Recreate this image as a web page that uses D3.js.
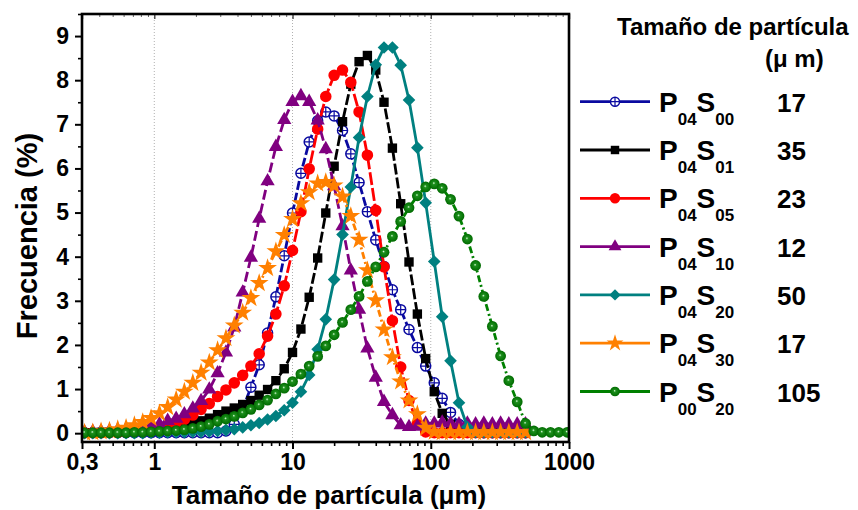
<!DOCTYPE html>
<html>
<head>
<meta charset="utf-8">
<script src="https://cdn.jsdelivr.net/npm/d3@7"></script>
<style>
  html, body { margin: 0; padding: 0; background: #fff; }
  svg { display: block; }
  text { font-family: "Liberation Sans", Arial, sans-serif; font-weight: bold; fill: #000; }
</style>
</head>
<body>
<svg id="chart" width="858" height="510"></svg>
<script>
// ---------------- DATA ----------------
const sizes = [0.313,0.359,0.412,0.474,0.544,0.625,0.718,0.825,0.948,1.09,1.25,1.44,1.65,1.90,2.18,2.50,2.87,3.30,3.79,4.36,5.00,5.74,6.60,7.58,8.71,10.0,11.5,13.2,15.2,17.4,20.0,23.0,26.4,30.3,34.8,40.0,45.9,52.8,60.6,69.6,80.0,91.9,106,121,139,160,184,211,242,279,320,367,422,485,557,640,735,844,970];

const p04s00 = [0.01,0.01,0.01,0.01,0.01,0.01,0.01,0.01,0.01,0.01,0.01,0.01,0.01,0.01,0.01,0.01,0.01,
  0.05,0.2,0.55,1.04,1.55,2.27,3.09,4.02,
  4.99,5.89,6.6,7.08,7.28,7.19,6.86,6.33,5.68,
  5.02,4.38,3.78,3.25,2.8,2.35,1.94,1.52,1.14,
  0.79,0.47,0.2,0.06,0.02,0.01,0.01,0.01,0.01,0.01,0.01];

const p04s01 = [0.01,0.01,0.02,0.02,0.03,0.04,0.05,0.06,0.07,0.09,0.11,0.14,
  0.17,0.22,0.28,0.34,0.42,0.5,0.57,0.65,0.74,
  0.86,0.99,1.19,1.46,1.83,2.36,3.08,3.97,4.99,
  6.05,7.06,7.91,8.42,8.56,8.23,7.5,6.46,5.2,
  3.88,2.7,1.69,0.94,0.45,0.2,0.05,0.02,0.01,0.01,0.01,0.01,0.01,0.01,0.01];

const p04s05 = [0.01,0.01,0.01,0.02,0.02,0.03,0.04,0.06,0.09,0.12,0.17,0.23,
  0.31,0.41,0.54,0.67,0.83,0.98,1.14,1.31,1.52,
  1.8,2.2,2.7,3.34,4.14,5.02,5.99,6.89,7.63,
  8.11,8.23,7.95,7.28,6.3,5.05,3.77,2.55,1.5,
  0.74,0.22,0.03,0.01,0.01,0.01,0.01,0.01,0.01,0.01,0.01,0.01,0.01,0.01,0.01];

const p04s10 = [0.02,0.03,0.04,0.05,0.07,0.09,0.11,
  0.13,0.16,0.2,0.28,0.33,0.43,0.56,0.73,0.99,
  1.36,1.83,2.4,3.19,3.98,4.86,5.71,6.49,7.10,
  7.51,7.64,7.51,7.09,6.44,5.6,4.69,3.69,2.80,
  1.92,1.26,0.71,0.41,0.18,0.14,0.15,0.22,0.22,
  0.24,0.22,0.2,0.22,0.2,0.22,0.2,0.22,0.2,0.2,0.2];

const p04s20 = [0,0,0,0,0,0,0,0,0.01,0.01,0.02,0.02,
  0.02,0.03,0.03,0.04,0.05,0.07,0.09,0.13,0.18,
  0.23,0.31,0.39,0.52,0.69,0.94,1.32,1.9,2.58,
  3.48,4.5,5.58,6.7,7.63,8.35,8.74,8.74,8.34,
  7.55,6.47,5.22,3.89,2.64,1.64,0.69,0.14,0.02,0.02,0.02,0.02,0.02,0.02,0.02];

const p04s30 = [0.01,0.02,0.04,0.06,0.09,0.12,0.18,0.25,0.34,
  0.45,0.59,0.76,0.94,1.14,1.37,1.6,1.88,2.15,
  2.44,2.73,3.06,3.4,3.74,4.12,4.49,4.85,5.21,
  5.46,5.66,5.69,5.61,5.36,4.92,4.38,3.69,3.01,
  2.35,1.72,1.17,0.74,0.43,0.12,0.03,0.02,0.02,
  0.02,0.02,0.02,0.02,0.02,0.02,0.02,0.02,0.02];

const p00s20 = [0.01,0.01,0.01,0.01,0.01,0.01,0.02,0.02,0.03,0.04,0.05,0.06,
  0.08,0.11,0.15,0.2,0.27,0.32,0.38,0.46,0.54,
  0.64,0.75,0.89,1.02,1.17,1.34,1.52,1.74,1.98,
  2.23,2.51,2.8,3.1,3.44,3.77,4.1,4.46,4.8,
  5.11,5.38,5.58,5.65,5.55,5.3,4.92,4.4,3.8,
  3.1,2.42,1.75,1.19,0.71,0.22,0.05,0.02,0.02,0.02,0.02];

const seriesMain = ["P","P","P","P","P","P","P"];
const seriesSub1 = ["04","04","04","04","04","04","00"];
const seriesSub2 = ["00","01","05","10","20","30","20"];
const meanSizes = ["17","35","23","12","50","17","105"];

const xTicks = [0.3, 1, 10, 100, 1000];
const xTickLabels = ["0,3", "1", "10", "100", "1000"];
const xMinor = [0.4,0.5,0.6,0.7,0.8,0.9,2,3,4,5,6,7,8,9,20,30,40,50,60,70,80,90,200,300,400,500,600,700,800,900];
const yTicks = [0,1,2,3,4,5,6,7,8,9];
const yMinor = [0.5,1.5,2.5,3.5,4.5,5.5,6.5,7.5,8.5,9.5];

const xTitle = "Tamaño de partícula (μm)";
const yTitle = "Frecuencia (%)";
const legendTitle1 = "Tamaño de partícula";
const legendTitle2 = "(μ m)";

// ---------------- STYLE CONFIG ----------------
const series = [
  {values: p04s00, color: "#0a0aa0", dash: "9,3", marker: "circlePlus"},
  {values: p04s01, color: "#000000", dash: "11,3", marker: "square"},
  {values: p04s05, color: "#ff0000", dash: "13,3", marker: "circle"},
  {values: p04s10, color: "#800080", dash: "10,4", marker: "triangle"},
  {values: p04s20, color: "#008080", dash: null, marker: "diamond"},
  {values: p04s30, color: "#ff8000", dash: "7,3,2,3", marker: "star"},
  {values: p00s20, color: "#008000", dash: "7,3,2,3", marker: "sphere"}
];

const svg = d3.select("#chart");
svg.append("rect").attr("width", 858).attr("height", 510).attr("fill", "#fff");

const defs = svg.append("defs");
const grad = defs.append("radialGradient").attr("id", "sph")
  .attr("cx", "0.5").attr("cy", "0.5").attr("r", "0.5").attr("fx", "0.45").attr("fy", "0.42");
grad.append("stop").attr("offset", "0%").attr("stop-color", "#e8ffe8");
grad.append("stop").attr("offset", "10%").attr("stop-color", "#8fd08f");
grad.append("stop").attr("offset", "26%").attr("stop-color", "#1c8f1c");
grad.append("stop").attr("offset", "100%").attr("stop-color", "#006a00");

const L = 82, R = 569, T = 14, B = 442;
const x = d3.scaleLog().domain([0.3, 1000]).range([L, R]);
const y = d3.scaleLinear().domain([-0.2, 9.5]).range([B, T]);

defs.append("clipPath").attr("id", "clip").append("rect")
  .attr("x", L).attr("y", T).attr("width", R - L).attr("height", B - T);

// grid lines
svg.append("g").selectAll("line").data([1, 10, 100]).join("line")
  .attr("x1", d => x(d)).attr("x2", d => x(d)).attr("y1", T).attr("y2", B)
  .attr("stroke", "#b0b0b0").attr("stroke-width", 1).attr("stroke-dasharray", "1,2");

// marker drawing
function drawMarker(g, type, color, cx, cy, scale) {
  const s = scale || 1;
  if (type === "circlePlus") {
    const r = 5.0 * s;
    g.append("circle").attr("cx", cx).attr("cy", cy).attr("r", r)
      .attr("fill", "#fff").attr("stroke", color).attr("stroke-width", 1.5);
    g.append("path").attr("d", `M${cx - r},${cy}H${cx + r}M${cx},${cy - r}V${cy + r}`)
      .attr("stroke", color).attr("stroke-width", 1.2);
  } else if (type === "sphere") {
    g.append("circle").attr("cx", cx).attr("cy", cy).attr("r", 5.4 * s)
      .attr("fill", "url(#sph)");
  } else {
    let sym, size, rot = 0;
    if (type === "square") { sym = d3.symbolSquare; size = 88; }
    else if (type === "circle") { sym = d3.symbolCircle; size = 105; }
    else if (type === "triangle") { sym = d3.symbolTriangle; size = 88; }
    else if (type === "diamond") { sym = d3.symbolSquare; size = 80; rot = 45; }
    else if (type === "star") { sym = d3.symbolStar; size = 110; }
    g.append("path").attr("d", d3.symbol().type(sym).size(size * s * s)())
      .attr("transform", `translate(${cx},${cy}) rotate(${rot})`)
      .attr("fill", color);
  }
}

const plot = svg.append("g").attr("clip-path", "url(#clip)");
const line = d3.line().x((d, i) => x(sizes[i])).y(d => y(d));

series.forEach(s => {
  const g = plot.append("g");
  g.append("path").attr("d", line(s.values)).attr("fill", "none")
    .attr("stroke", s.color).attr("stroke-width", 2.8)
    .attr("stroke-dasharray", s.dash).attr("stroke-linejoin", "round");
  const mg = g.append("g");
  s.values.forEach((v, i) => drawMarker(mg, s.marker, s.color, x(sizes[i]), y(v)));
});

// axes
const fontTick = 23;
const yAxis = svg.append("g").attr("transform", `translate(${L},0)`)
  .call(d3.axisLeft(y).tickValues(yTicks).tickSize(7).tickPadding(6).tickFormat(d3.format("d")));
yAxis.select(".domain").remove();
yAxis.selectAll("line").attr("stroke-width", 2);
yAxis.selectAll("text").attr("font-size", fontTick).attr("font-family", "Liberation Sans, Arial").attr("font-weight", "bold");
const yAxisMinor = svg.append("g").attr("transform", `translate(${L},0)`)
  .call(d3.axisLeft(y).tickValues(yMinor).tickSize(4).tickFormat(""));
yAxisMinor.select(".domain").remove();
yAxisMinor.selectAll("line").attr("stroke-width", 1.6);

const xAxis = svg.append("g").attr("transform", `translate(0,${B})`)
  .call(d3.axisBottom(x).tickValues(xTicks).tickSize(7).tickPadding(5).tickFormat((d, i) => xTickLabels[i]));
xAxis.select(".domain").remove();
xAxis.selectAll("line").attr("stroke-width", 2);
xAxis.selectAll("text").attr("font-size", fontTick).attr("font-family", "Liberation Sans, Arial").attr("font-weight", "bold");
const xAxisMinor = svg.append("g").attr("transform", `translate(0,${B})`)
  .call(d3.axisBottom(x).tickValues(xMinor).tickSize(4).tickFormat(""));
xAxisMinor.select(".domain").remove();
xAxisMinor.selectAll("line").attr("stroke-width", 1.6);

// top inward ticks
const topMajor = svg.append("g").attr("transform", `translate(0,${T})`)
  .call(d3.axisBottom(x).tickValues(xTicks).tickSize(5).tickFormat(""));
topMajor.select(".domain").remove();
topMajor.selectAll("line").attr("stroke-width", 1.4).attr("stroke", "#444");
const topMinor = svg.append("g").attr("transform", `translate(0,${T})`)
  .call(d3.axisBottom(x).tickValues(xMinor).tickSize(3).tickFormat(""));
topMinor.select(".domain").remove();
topMinor.selectAll("line").attr("stroke-width", 1).attr("stroke", "#666");

// frame
svg.append("rect").attr("x", L).attr("y", T).attr("width", R - L).attr("height", B - T)
  .attr("fill", "none").attr("stroke", "#000").attr("stroke-width", 2.6);

// axis titles
svg.append("text").attr("x", 329).attr("y", 504).attr("text-anchor", "middle")
  .attr("font-size", 26).text(xTitle);
svg.append("text").attr("transform", "translate(37,236) rotate(-90)").attr("text-anchor", "middle")
  .attr("font-size", 29).text(yTitle);

// legend
svg.append("text").attr("x", 617).attr("y", 35).attr("font-size", 24).text(legendTitle1);
svg.append("text").attr("x", 765).attr("y", 67).attr("font-size", 24).text(legendTitle2);

series.forEach((s, i) => {
  const ly = 101.7 + 48.3 * i;
  const g = svg.append("g");
  g.append("line").attr("x1", 580).attr("x2", 650).attr("y1", ly).attr("y2", ly)
    .attr("stroke", s.color).attr("stroke-width", 2.8);
  drawMarker(g, s.marker, s.color, 615, ly, 0.9);
  const t = g.append("text").attr("x", 659).attr("y", ly + 10).attr("font-size", 28);
  t.append("tspan").text(seriesMain[i]);
  t.append("tspan").attr("font-size", 17).attr("dy", 13).text(seriesSub1[i]);
  t.append("tspan").attr("font-size", 28).attr("dy", -13).text("S");
  t.append("tspan").attr("font-size", 17).attr("dy", 13).text(seriesSub2[i]);
  g.append("text").attr("x", 777).attr("y", ly + 10).attr("font-size", 26).text(meanSizes[i]);
});
</script>
</body>
</html>
